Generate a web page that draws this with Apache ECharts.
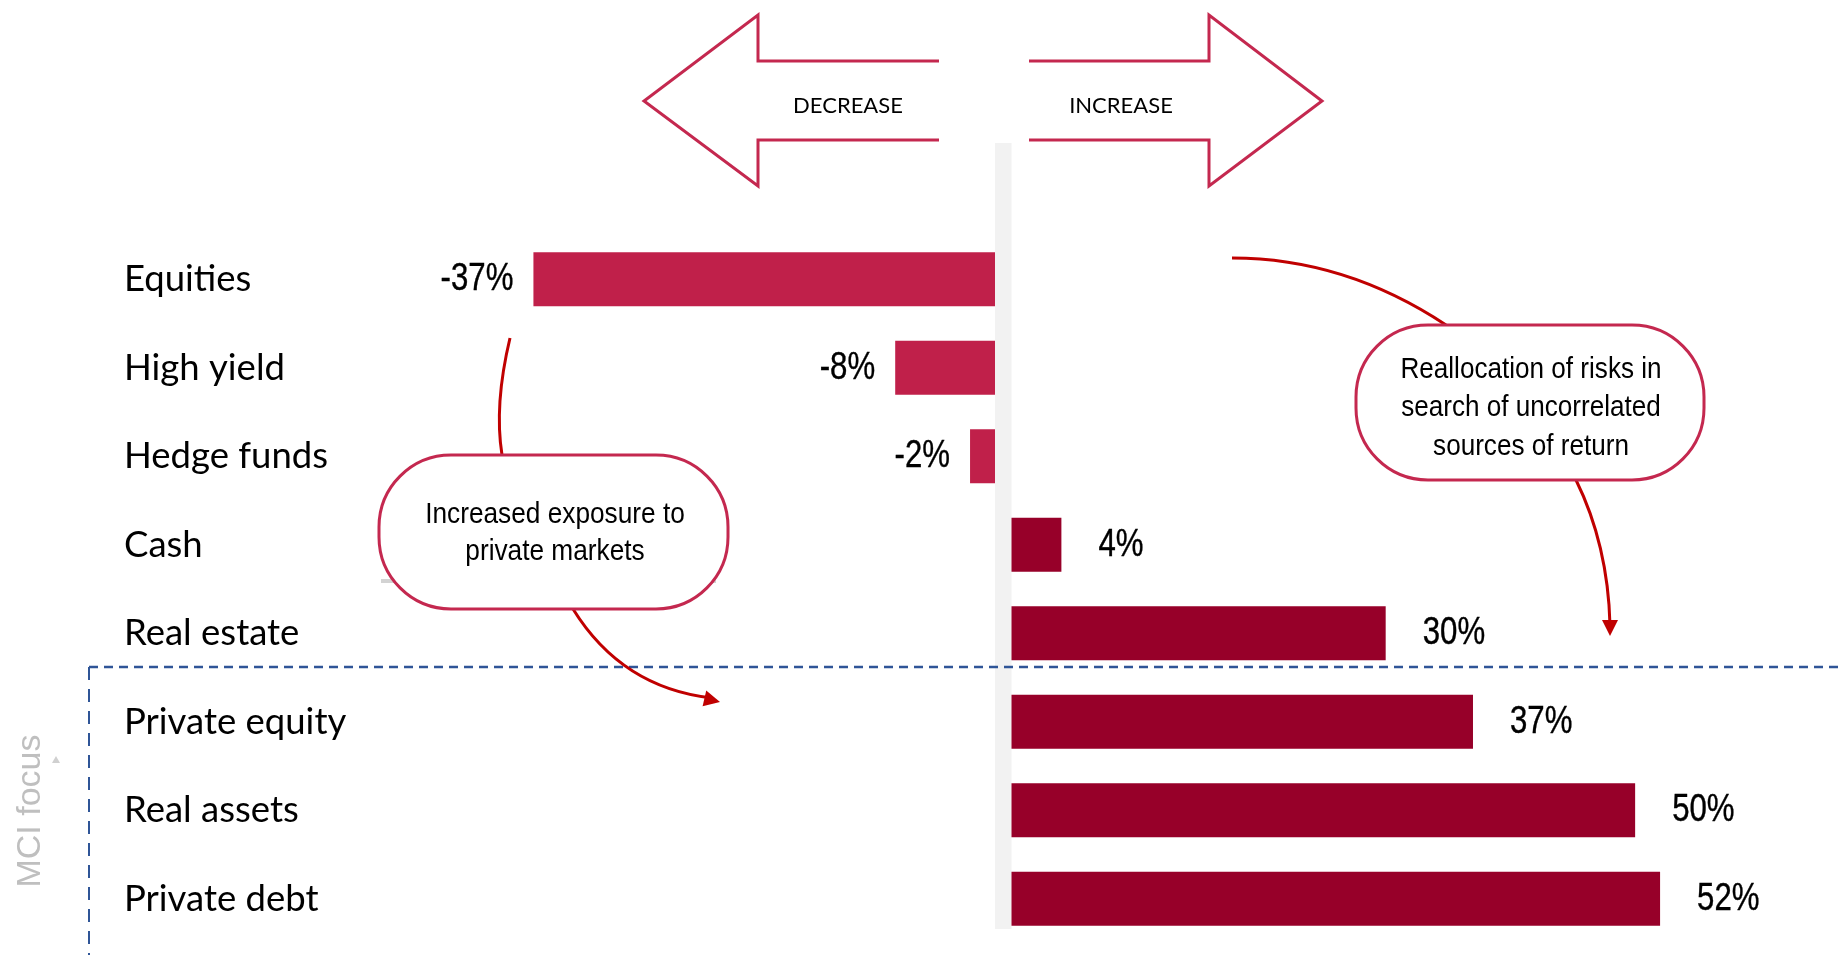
<!DOCTYPE html>
<html>
<head>
<meta charset="utf-8">
<script src="https://cdn.jsdelivr.net/npm/echarts@6/dist/echarts.min.js"></script>
<style>
html,body{margin:0;padding:0;background:#fff;}
#chart{width:1840px;height:960px;}
</style>
</head>
<body>
<div id="chart"></div>
<script>
// ---- data ----
const categories = ['Equities', 'High yield', 'Hedge funds', 'Cash', 'Real estate', 'Private equity', 'Real assets', 'Private debt'];
const values = [-37, -8, -2, 4, 30, 37, 50, 52];
const directionLabels = ['DECREASE', 'INCREASE'];
const bubbleLeftText = ['Increased exposure to', 'private markets'];
const bubbleRightText = ['Reallocation of risks in', 'search of uncorrelated', 'sources of return'];
const focusLabel = 'MCI focus';

// ---- styling ----
const NEG = '#C0204A';
const POS = '#970029';
const CRIMSON = '#C4284F';
const RED = '#C00000';
const SANS = "'Liberation Sans', Arial, sans-serif";
const CAT_FONT = "Lato, 'Open Sans', sans-serif";

const negData = values.map(v => v < 0 ? v : null);
const posData = values.map(v => v >= 0 ? v : null);
const negLabelData = values.map((v, i) => v < 0 ? [v, i] : null).filter(d => d);
const posLabelData = values.map((v, i) => v >= 0 ? [v, i] : null).filter(d => d);

const gridTop = 235, gridH = 708;

function arrowHead(tx, ty, fx, fy, len, half) {
  const dx = tx - fx, dy = ty - fy;
  const d = Math.sqrt(dx * dx + dy * dy);
  const ux = dx / d, uy = dy / d;
  const bx = tx - ux * len, by = ty - uy * len;
  return [[tx, ty], [bx - uy * half, by + ux * half], [bx + uy * half, by - ux * half]];
}

function condensedText(text, x, y, align, size, lh, sx, z) {
  return {type: 'text', z: z || 9, x: x, y: y, scaleX: sx,
    style: {text: text, x: 0, y: 0, align: align, verticalAlign: 'middle',
      font: size + 'px ' + SANS, lineHeight: lh, fill: '#000'}};
}

function valueLabelRenderer(side) {
  return function (params, api) {
    const v = api.value(0);
    const p = api.coord([v, api.value(1)]);
    const dist = side === 'left' ? -20 : 37;
    return {
      type: 'text',
      x: p[0] + dist, y: p[1], scaleX: 0.8,
      style: {text: v + '%', x: 0, y: 0, align: side === 'left' ? 'right' : 'left', verticalAlign: 'middle',
        font: '39px ' + SANS, fill: '#000', stroke: '#000', lineWidth: 0.4}
    };
  };
}

const chart = echarts.init(document.getElementById('chart'), null, {renderer: 'canvas'});

const graphics = [
  // gray center strip
  {type: 'rect', z: 0, shape: {x: 995, y: 143, width: 16.5, height: 786}, style: {fill: '#F2F2F2'}},
  // top arrows
  {type: 'polyline', z: 5, shape: {points: [[939, 61], [758, 61], [758, 15], [644, 101], [758, 186], [758, 140], [939, 140]]},
    style: {stroke: CRIMSON, lineWidth: 3, fill: null}},
  {type: 'polyline', z: 5, shape: {points: [[1029, 61], [1209, 61], [1209, 15], [1322, 101], [1209, 186], [1209, 140], [1029, 140]]},
    style: {stroke: CRIMSON, lineWidth: 3, fill: null}},
  {type: 'text', z: 5, style: {text: directionLabels[0], x: 848, y: 106, align: 'center', verticalAlign: 'middle',
    font: '22px ' + CAT_FONT, fill: '#000'}},
  {type: 'text', z: 5, style: {text: directionLabels[1], x: 1121, y: 106, align: 'center', verticalAlign: 'middle',
    font: '22px ' + CAT_FONT, fill: '#000'}},
  // dashed MCI focus box
  {type: 'line', z: 6, shape: {x1: 89, y1: 667, x2: 1840, y2: 667}, style: {stroke: '#2F5597', lineWidth: 2.5, lineDash: [9, 6]}},
  {type: 'line', z: 6, shape: {x1: 89, y1: 667, x2: 89, y2: 955}, style: {stroke: '#2F5597', lineWidth: 2, lineDash: [13, 9]}},
  {type: 'text', z: 6, x: 31, y: 811, rotation: Math.PI / 2,
    style: {text: focusLabel, align: 'center', verticalAlign: 'middle', font: '34px ' + SANS, fill: '#BFBFBF'}},
  {type: 'polygon', z: 6, shape: {points: [[56, 756], [52, 763], [60, 763]]}, style: {fill: '#D0D0D0'}},
  // gray artifact line behind left bubble
  {type: 'line', z: 6, shape: {x1: 381, y1: 581, x2: 716, y2: 581}, style: {stroke: '#D3D3D3', lineWidth: 4}},
  // connectors
  {type: 'bezierCurve', z: 7, shape: {x1: 510, y1: 338, cpx1: 494, cpy1: 405, x2: 502, y2: 455}, style: {stroke: RED, lineWidth: 3, fill: null}},
  {type: 'bezierCurve', z: 7, shape: {x1: 573, y1: 609, cpx1: 622, cpy1: 688, x2: 712, y2: 698}, style: {stroke: RED, lineWidth: 3, fill: null}},
  {type: 'polygon', z: 7, shape: {points: arrowHead(720, 702, 660, 688, 16, 8)}, style: {fill: RED}},
  {type: 'bezierCurve', z: 7, shape: {x1: 1232, y1: 258, cpx1: 1345, cpy1: 258, x2: 1446, y2: 325}, style: {stroke: RED, lineWidth: 3, fill: null}},
  {type: 'bezierCurve', z: 7, shape: {x1: 1576, y1: 480, cpx1: 1608, cpy1: 545, x2: 1610, y2: 625}, style: {stroke: RED, lineWidth: 3, fill: null}},
  {type: 'polygon', z: 7, shape: {points: arrowHead(1610, 636, 1610, 600, 16, 8)}, style: {fill: RED}},
  // bubbles
  {type: 'rect', z: 8, shape: {x: 379, y: 455, width: 349, height: 154, r: 72}, style: {fill: '#fff', stroke: CRIMSON, lineWidth: 3}},
  condensedText(bubbleLeftText.join('\n'), 555, 533, 'center', 30, 37, 0.875),
  {type: 'rect', z: 8, shape: {x: 1356, y: 325, width: 348, height: 155, r: 72}, style: {fill: '#fff', stroke: CRIMSON, lineWidth: 3}},
  condensedText(bubbleRightText.join('\n'), 1531, 408, 'center', 30, 38.5, 0.87)
];

const option = {
  backgroundColor: '#fff',
  animation: false,
  grid: [
    {left: 496, width: 499, top: gridTop, height: gridH},
    {left: 1011.5, width: 686, top: gridTop, height: gridH}
  ],
  xAxis: [
    {gridIndex: 0, type: 'value', min: -40, max: 0, show: false},
    {gridIndex: 1, type: 'value', min: 0, max: 55, show: false}
  ],
  yAxis: [
    {gridIndex: 0, type: 'category', data: categories, inverse: true,
      axisLine: {show: false}, axisTick: {show: false}, splitLine: {show: false},
      axisLabel: {align: 'left', margin: 372, fontSize: 36.5, fontFamily: CAT_FONT, color: '#000'}},
    {gridIndex: 1, type: 'category', data: categories, inverse: true, show: false}
  ],
  series: [
    {type: 'bar', xAxisIndex: 0, yAxisIndex: 0, data: negData, barWidth: 54, z: 3,
      itemStyle: {color: NEG}},
    {type: 'bar', xAxisIndex: 1, yAxisIndex: 1, data: posData, barWidth: 54, z: 3,
      itemStyle: {color: POS}},
    {type: 'custom', xAxisIndex: 0, yAxisIndex: 0, data: negLabelData, z: 4,
      renderItem: valueLabelRenderer('left')},
    {type: 'custom', xAxisIndex: 1, yAxisIndex: 1, data: posLabelData, z: 4,
      renderItem: valueLabelRenderer('right')}
  ],
  graphic: graphics
};
chart.setOption(option);
</script>
</body>
</html>
